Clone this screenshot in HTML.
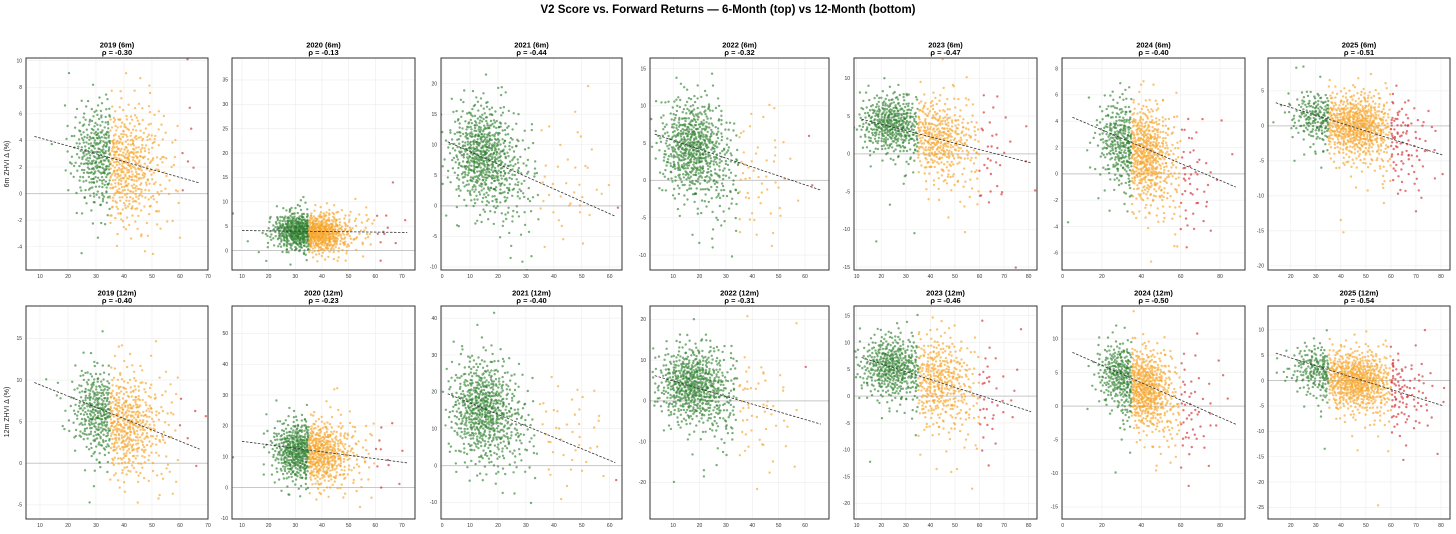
<!DOCTYPE html>
<html><head><meta charset="utf-8"><style>
html,body{margin:0;padding:0;background:#fff;}
svg{display:block;font-family:"Liberation Sans",sans-serif;}
</style></head><body>
<svg id="fig" width="1456" height="534" viewBox="0 0 1456 534" xmlns="http://www.w3.org/2000/svg">
<rect width="1456" height="534" fill="#fff"/>
<text x="728" y="13" text-anchor="middle" font-size="11.5" font-weight="bold" fill="#000">V2 Score vs. Forward Returns — 6-Month (top) vs 12-Month (bottom)</text>
<text transform="translate(9,164) rotate(-90)" text-anchor="middle" font-size="7" fill="#222">6m ZHVI Δ (%)</text>
<text transform="translate(9,412) rotate(-90)" text-anchor="middle" font-size="7" fill="#222">12m ZHVI Δ (%)</text>
</svg>
<script>
// ---- data ----
const years = ["2019","2020","2021","2022","2023","2024","2025"];
const rho6 = ["-0.30","-0.13","-0.44","-0.32","-0.47","-0.40","-0.51"];
const rho12 = ["-0.40","-0.23","-0.40","-0.31","-0.46","-0.50","-0.54"];
const xMin = [5, 6.25, -0.4, 1.2, 8.9, -0.3, 10.9];
const xMax = [70, 74.9, 64.4, 69.1, 83.4, 92.7, 83.6];
const xStep = [10,10,10,10,10,20,10];
const yMin6 = [-5.75,-4,-10.5,-12,-15.4,-7.3,-20.6];
const yMax6 = [10.2,39.5,24.2,16.4,12.7,8.8,9.7];
const yStep6 = [2,5,5,5,5,2,5];
const yMin12 = [-6.7,-10.2,-14.5,-29,-22.9,-16.8,-27.3];
const yMax12 = [18.9,58.9,43.3,23.3,16.8,14.9,14.7];
const yStep12 = [5,10,10,10,5,5,5];
// clusters per panel: [cx, cy, sx, sy, n]
const clusters6 = [
 [[30,3,4.5,1.9,300],[41,2,5.5,2.2,400],[50,2,7,2.8,80],[40,2,12,3.5,30]],
 [[30,4,4.5,2,400],[40,3.5,5,2.1,450],[52,4,8,3,60],[40,4,14,4,25]],
 [[14,8.5,5.5,4.2,600],[24,4,5,4.5,120],[45,3,9,5.5,40],[25,4,15,8,25]],
 [[17,4.5,6,3.3,600],[28,1,5,4,100],[42,0,8,4.5,45],[30,2,15,6,25]],
 [[24,4,6.5,2,450],[43,2,6.5,2.5,350],[55,0,9,4,100],[45,0,18,6,30]],
 [[28,2.7,5.5,1.6,250],[42,1.5,6.5,1.9,550],[58,-0.5,9,2.4,100],[55,0,20,3.5,25]],
 [[30,1.5,5.5,1.8,180],[46,0,7.5,2.4,650],[62,-3,8,3.5,120],[55,-4,15,6,25]]
];
const clusters12 = [
 [[30,6.5,4.5,2.6,300],[41,4.5,5.5,3,400],[50,4,7,4,80],[38,5,12,5.5,30]],
 [[30,12,4.5,5,400],[40,11,5.5,5.5,450],[52,10,8,6.5,60],[40,12,14,10,25]],
 [[14,15.5,5.5,7,600],[24,10,5,7,120],[45,8,9,8,40],[25,10,15,14,25]],
 [[17,4,6.5,4.8,600],[28,0,5,6,100],[42,-3,8,8,45],[30,0,15,11,25]],
 [[24,5.5,6.5,3,450],[43,3,6.5,4.2,350],[55,-1,9,5.5,100],[45,0,18,8,30]],
 [[28,5,5.5,2.4,250],[42,2.5,6.5,3,550],[58,-1,9,4,100],[55,0,20,6,25]],
 [[30,2.5,5.5,2.4,180],[46,0,7.5,3,650],[62,-3,8,4,120],[55,-5,15,8,25]]
];
// regression line: [x0, y0, x1, y1]
const fit6 = [[8,4.3,67,0.8],[10,4.1,72,3.7],[2,10.5,62,-1.7],[3,6.2,66,-1.3],[12,4.6,81,-1.2],[5,4.3,88,-1],[14,3.3,81,-4.2]];
const fit12 = [[8,9.7,67,1.7],[10,15,72,8],[2,19.5,62,0.8],[3,6.2,66,-5.7],[12,7.2,81,-2.9],[5,8,88,-2.7],[14,5.4,81,-5]];

// ---- layout ----
const colL = [26,232,441,650,854,1062,1268];
const colR = [208,415,622,829,1037,1245,1450];
const rowT = [58,306], rowB = [270,519];
const NS = "http://www.w3.org/2000/svg";
const svg = document.getElementById("fig");
function mk(tag, attrs, parent){const e=document.createElementNS(NS,tag);for(const k in attrs)e.setAttribute(k,attrs[k]);(parent||svg).appendChild(e);return e;}
function halton(i,b){let f=1,r=0;while(i>0){f/=b;r+=f*(i%b);i=Math.floor(i/b);}return r;}
function colorFor(x){return x<35?"rgba(40,125,40,0.62)":(x<60?"rgba(245,160,30,0.62)":"rgba(210,45,45,0.65)");}

for(let row=0;row<2;row++){
 for(let c=0;c<7;c++){
  const L=colL[c],R=colR[c],T=rowT[row],B=rowB[row];
  const x0=xMin[c],x1=xMax[c];
  const y0=row?yMin12[c]:yMin6[c], y1=row?yMax12[c]:yMax6[c];
  const ys=row?yStep12[c]:yStep6[c];
  const sx=v=>L+(v-x0)/(x1-x0)*(R-L);
  const sy=v=>B-(v-y0)/(y1-y0)*(B-T);
  const g=mk("g",{});
  
  
  const cid="clip"+row+"_"+c;
  const cp=mk("clipPath",{id:cid},g);mk("rect",{x:L,y:T,width:R-L,height:B-T},cp);
  for(let v=Math.ceil(x0/xStep[c])*xStep[c];v<=x1;v+=xStep[c]){
   mk("line",{x1:sx(v),x2:sx(v),y1:T,y2:B,stroke:"#ececec","stroke-width":0.6},g);
   const t=mk("text",{x:sx(v),y:B+8,"text-anchor":"middle","font-size":5,fill:"#333"},g);t.textContent=v;
   
   
  }
  for(let v=Math.ceil(y0/ys)*ys;v<=y1;v+=ys){
   mk("line",{x1:L,x2:R,y1:sy(v),y2:sy(v),stroke:"#ececec","stroke-width":0.6},g);
   const t=mk("text",{x:L-4,y:sy(v)+1.8,"text-anchor":"end","font-size":5,fill:"#333"},g);t.textContent=v;
   
   
  }
  mk("line",{x1:L,x2:R,y1:sy(0),y2:sy(0),stroke:"#c8c8c8","stroke-width":1},g);
  const pg=mk("g",{"clip-path":"url(#"+cid+")"},g);
  const cl=row?clusters12[c]:clusters6[c];
  let idx=1+c*1000+row*500;
  cl.forEach(k=>{
   for(let i=0;i<k[4];i++){
    idx++;
    const u1=Math.max(1e-4,halton(idx,2)), u2=halton(idx,3);
    const r=Math.sqrt(-2*Math.log(u1));
    const px=k[0]+k[2]*r*Math.cos(2*Math.PI*u2), py=k[1]+k[3]*r*Math.sin(2*Math.PI*u2);
    const p=mk("circle",{cx:sx(px).toFixed(1),cy:sy(py).toFixed(1),r:1.2,fill:colorFor(px)},pg);
    
    
   }
  });
  const f=row?fit12[c]:fit6[c];
  const ln=mk("line",{x1:sx(f[0]),y1:sy(f[1]),x2:sx(f[2]),y2:sy(f[3]),stroke:"#333","stroke-width":0.8,"stroke-dasharray":"2.5,1.5"},g);
  
  
  mk("rect",{x:L,y:T,width:R-L,height:B-T,fill:"none",stroke:"#333","stroke-width":1},g);
  const cx=(L+R)/2, ty=row?295.5:47.5;
  const t1=mk("text",{x:cx,y:ty,"text-anchor":"middle","font-size":7.5,"font-weight":"bold",fill:"#000"},g);
  t1.textContent=years[c]+(row?" (12m)":" (6m)");
  
  
  const t2=mk("text",{x:cx,y:ty+7.5,"text-anchor":"middle","font-size":7.5,"font-weight":"bold",fill:"#000"},g);
  t2.textContent="ρ = "+(row?rho12[c]:rho6[c]);
  
  
 }
}
</script>
</body></html>
